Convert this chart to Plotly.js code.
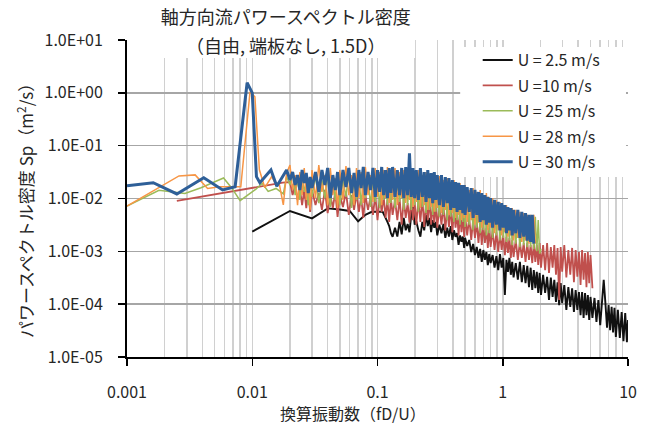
<!DOCTYPE html>
<html>
<head>
<meta charset="utf-8">
<script src="https://cdn.plot.ly/plotly-3.0.1.min.js"></script>
<style>
  html, body { margin: 0; padding: 0; background: #fff; }
  #chart { width: 651px; height: 427px; }
</style>
</head>
<body>
<div id="chart"></div>
<script>
// Reduced frequency fD/U shared by the dense part of every spectrum
const fGrid = [
  0.020, 0.021, 0.022, 0.023, 0.024, 0.025, 0.026, 0.027, 0.028, 0.029,
  0.030, 0.032, 0.034, 0.036, 0.038, 0.040, 0.042, 0.044, 0.046, 0.048,
  0.050, 0.053, 0.056, 0.059, 0.062, 0.065, 0.068, 0.071, 0.074, 0.077,
  0.080, 0.084, 0.088, 0.092, 0.096, 0.100, 0.104, 0.108, 0.112, 0.116, 0.120, 0.124, 0.128,
  0.132, 0.138, 0.144, 0.150, 0.156, 0.162, 0.168, 0.174, 0.180, 0.186, 0.192, 0.198,
  0.204, 0.212, 0.220, 0.228, 0.236, 0.244, 0.252, 0.260, 0.268, 0.276, 0.284, 0.292, 0.300,
  0.312, 0.324, 0.336, 0.348, 0.360, 0.372, 0.384, 0.396, 0.408, 0.420, 0.432, 0.444, 0.456, 0.468, 0.480, 0.492,
  0.50, 0.52, 0.54, 0.56, 0.58, 0.60, 0.62, 0.64, 0.66, 0.68, 0.70, 0.72, 0.74, 0.76, 0.78,
  0.80, 0.83, 0.86, 0.89, 0.92, 0.95, 0.98, 1.01, 1.04, 1.07, 1.10, 1.13, 1.16, 1.19,
  1.22, 1.27, 1.32, 1.37, 1.42, 1.47, 1.52, 1.57, 1.62, 1.67, 1.72, 1.77, 1.82, 1.87, 1.92, 1.97,
  2.02, 2.10, 2.18, 2.26, 2.34, 2.42, 2.50, 2.58, 2.66, 2.74, 2.82, 2.90, 2.98,
  3.10, 3.22, 3.34, 3.46, 3.58, 3.70, 3.82, 3.94, 4.06, 4.18, 4.30, 4.42, 4.54, 4.66, 4.78, 4.90, 5.02,
  5.2, 5.4, 5.6, 5.8, 6.0, 6.2, 6.4, 6.6, 6.8, 7.0, 7.2, 7.4, 7.6, 7.8,
  8.0, 8.3, 8.6, 8.9, 9.2, 9.5, 9.8, 10.0
];

// U = 2.5 m/s
const f2_5Head = [0.01, 0.02, 0.03, 0.04, 0.05, 0.06, 0.07, 0.08, 0.09, 0.10, 0.11, 0.12];
const sp2_5Head = [0.00236, 0.0058, 0.0042, 0.0065, 0.0062, 0.0058, 0.0037, 0.0049, 0.0056, 0.0056, 0.0056, 0.0036];
const sp2_5Tail = [
  0.0030, 0.0022, 0.00188,
  0.0028, 0.0019, 0.0036, 0.0021, 0.0043, 0.0025, 0.0033, 0.0023, 0.0049, 0.0069,
  0.0032, 0.0037, 0.0025, 0.0019, 0.0036, 0.0025, 0.0049, 0.0030, 0.0043, 0.0023,
  0.0039, 0.0028, 0.0036, 0.0020, 0.0032, 0.0022, 0.0033, 0.0018, 0.0028, 0.0019,
  0.0030, 0.00164, 0.0025, 0.00188, 0.0022, 0.00132, 0.0020, 0.00151, 0.0019, 0.00116,
  0.0018, 0.00126, 0.00164, 0.00097, 0.00138, 0.00085, 0.00121, 0.00075, 0.00111, 0.00063,
  0.00106, 0.00069, 0.00097, 0.00055, 0.00089, 0.00060, 0.00085, 0.00049, 0.00081, 0.00044,
  0.00089, 0.00049, 0.00075, 0.000149, 0.00069, 0.00041, 0.00075, 0.00036, 0.00063, 0.00032,
  0.00060, 0.00029, 0.00063, 0.00026, 0.00055, 0.00025, 0.00053, 0.00021, 0.00049, 0.000185,
  0.00044, 0.00020, 0.00041, 0.000163, 0.00039, 0.000149, 0.00036, 0.000163, 0.00033, 0.000120,
  0.00032, 0.000137, 0.00029, 0.000110, 0.00026, 0.000096, 0.00025, 0.000105, 0.00023, 0.000078,
  0.00021, 0.000089, 0.00020, 0.000071, 0.000185, 0.000078, 0.000170, 0.000062, 0.000170, 0.000055,
  0.000163, 0.000062, 0.000149, 0.000050, 0.000137, 0.000055, 0.000131, 0.000046, 0.000120, 0.000040,
  0.000110, 0.00029, 0.000105, 0.000036, 0.000096, 0.000032, 0.000089, 0.000029, 0.000085, 0.000024,
  0.000078, 0.000023, 0.000071, 0.000020, 0.000068, 0.000019, 0.000050
];

// U = 10 m/s
const f10Head = [0.0025, 0.005, 0.0075, 0.01, 0.0125, 0.015, 0.0175];
const sp10Head = [0.0090, 0.0120, 0.0142, 0.0160, 0.0178, 0.0190, 0.0200];
const sp10Tail = [
  0.0205, 0.0116, 0.0180, 0.0094, 0.0158, 0.0075, 0.0145, 0.0066, 0.0133, 0.0056,
  0.0145, 0.0075, 0.0127, 0.0061, 0.0145, 0.0053, 0.0116, 0.0066, 0.0133, 0.0045,
  0.0116, 0.0069, 0.0133, 0.0049, 0.0116, 0.0061, 0.0127, 0.0056, 0.0107, 0.0043,
  0.0116, 0.0061, 0.0107, 0.0049, 0.0116, 0.0039, 0.0102, 0.0056, 0.0111, 0.0043,
  0.0094, 0.0036, 0.0102, 0.0049, 0.0094, 0.0039, 0.0102, 0.0032, 0.0094, 0.0043,
  0.0082, 0.0035, 0.0102, 0.0039, 0.0086, 0.0032, 0.0094, 0.0036, 0.0102, 0.0029,
  0.0082, 0.0039, 0.0094, 0.0032, 0.0075, 0.0035, 0.0082, 0.0028, 0.0069, 0.0032,
  0.0075, 0.0025, 0.0066, 0.0029, 0.0069, 0.0023, 0.0061, 0.0028, 0.0056, 0.0020,
  0.0053, 0.0023, 0.0049, 0.00188, 0.0049, 0.0020, 0.0043, 0.00164, 0.0039, 0.0018,
  0.0036, 0.00144, 0.0035, 0.00132, 0.0032, 0.00144, 0.0028, 0.00116, 0.0028, 0.00121,
  0.0025, 0.00106, 0.0023, 0.00097, 0.0022, 0.00106, 0.0020, 0.00085, 0.00188, 0.00093,
  0.0018, 0.00075, 0.00164, 0.00078, 0.00164, 0.00069, 0.00151, 0.00075, 0.00144, 0.00063,
  0.00144, 0.00069, 0.00132, 0.00060, 0.00144, 0.00063, 0.00132, 0.00055, 0.00144, 0.00049,
  0.00132, 0.00044, 0.00144, 0.00039, 0.00121, 0.00049, 0.00132, 0.00036, 0.00116, 0.00012,
  0.00121, 0.00041, 0.00132, 0.00032, 0.00106, 0.00036, 0.00116, 0.00026, 0.00106, 0.00033,
  0.00097, 0.00023, 0.00106, 0.00029, 0.00093, 0.00021, 0.00097, 0.00025, 0.00085, 0.00020
];

// U = 25 m/s
const f25Head = [0.001, 0.0018, 0.0029, 0.0039, 0.0059, 0.0069, 0.008, 0.0107, 0.012, 0.0134, 0.0155, 0.0177, 0.0188];
const sp25Head = [0.0072, 0.0143, 0.0125, 0.016, 0.0244, 0.0155, 0.0091, 0.015, 0.0194, 0.0136, 0.0155, 0.0122, 0.026];
const sp25Tail = [
  0.0180, 0.0317, 0.0116, 0.0244, 0.0094, 0.0278, 0.0133, 0.0205, 0.0075, 0.0244,
  0.0107, 0.0278, 0.0082, 0.0224, 0.0102, 0.0304, 0.0069, 0.0244, 0.0094, 0.0278,
  0.0075, 0.0224, 0.0107, 0.0317, 0.0066, 0.0244, 0.0094, 0.0278, 0.0075, 0.0224,
  0.0102, 0.0304, 0.0069, 0.0244, 0.0086, 0.0278, 0.0066, 0.0224, 0.0094, 0.0255,
  0.0075, 0.0224, 0.0082, 0.0278, 0.0066, 0.0205, 0.0086, 0.0244, 0.0061, 0.0224,
  0.0075, 0.0244, 0.0061, 0.0205, 0.0075, 0.0224, 0.0056, 0.0197, 0.0069, 0.0205,
  0.0053, 0.0180, 0.0061, 0.0197, 0.0049, 0.0165, 0.0056, 0.0180, 0.0045, 0.0158,
  0.0049, 0.0165, 0.0039, 0.0145, 0.0045, 0.0145, 0.0036, 0.0133, 0.0039, 0.0127,
  0.0032, 0.0116, 0.0036, 0.0116, 0.0029, 0.0107, 0.0032, 0.0102, 0.0025, 0.0094,
  0.0028, 0.0086, 0.0022, 0.0082, 0.0025, 0.0075, 0.0020, 0.0069, 0.0022, 0.0066,
  0.0018, 0.0061, 0.0020, 0.0061, 0.0016, 0.0056, 0.0018, 0.0053, 0.0015, 0.0049,
  0.0016, 0.0049, 0.0013, 0.0045, 0.0014, 0.0043, 0.0012, 0.0043, 0.0013, 0.0039,
  0.0012, 0.0043, 0.0012, 0.0039, 0.0011, 0.0045, 0.0010, 0.0039, 0.0009, 0.0011
];

// U = 28 m/s
const f28Head = [0.001, 0.0026, 0.0035, 0.0044, 0.0055, 0.0073, 0.0081, 0.0096, 0.0105, 0.0114, 0.0126, 0.0143, 0.0152, 0.0165, 0.0177, 0.0188];
const sp28Head = [0.0072, 0.0267, 0.028, 0.0155, 0.0167, 0.0165, 0.0167, 1.05, 0.845, 0.035, 0.016, 0.026, 0.0199, 0.018, 0.0076, 0.030];
const sp28Tail = [
  0.0431, 0.0145, 0.0278, 0.0075, 0.0317, 0.0116, 0.0378, 0.0094, 0.0244, 0.0061,
  0.0346, 0.0102, 0.0431, 0.0133, 0.0278, 0.0075, 0.0378, 0.0116, 0.0244, 0.0066,
  0.0346, 0.0094, 0.0413, 0.0116, 0.0278, 0.0075, 0.0378, 0.0102, 0.0317, 0.0082,
  0.0395, 0.0116, 0.0278, 0.0086, 0.0378, 0.0107, 0.0317, 0.0075, 0.0346, 0.0102,
  0.0395, 0.0082, 0.0304, 0.0094, 0.0378, 0.0075, 0.0317, 0.0102, 0.0346, 0.0082,
  0.0278, 0.0094, 0.0346, 0.0069, 0.0304, 0.0086, 0.0346, 0.0066, 0.0278, 0.0075,
  0.0317, 0.0061, 0.0255, 0.0069, 0.0304, 0.0056, 0.0244, 0.0066, 0.0265, 0.0053,
  0.0224, 0.0061, 0.0244, 0.0049, 0.0205, 0.0053, 0.0224, 0.0043, 0.0180, 0.0049,
  0.0197, 0.0039, 0.0165, 0.0043, 0.0180, 0.0036, 0.0145, 0.0039, 0.0158, 0.0032,
  0.0133, 0.0035, 0.0145, 0.0028, 0.0116, 0.0032, 0.0127, 0.0025, 0.0107, 0.0028,
  0.0102, 0.0022, 0.0094, 0.0025, 0.0086, 0.0020, 0.0075, 0.0023, 0.0075, 0.0019,
  0.0066, 0.0020, 0.0066, 0.0016, 0.0061, 0.0018, 0.0056, 0.0015, 0.0053, 0.0016,
  0.0049, 0.0014, 0.0049, 0.0016, 0.0049, 0.0014
];

// U = 30 m/s
const f30Head = [0.001, 0.00162, 0.0025, 0.0041, 0.0058, 0.0073, 0.0091, 0.0100, 0.0108, 0.0115, 0.0141, 0.0157, 0.0188];
const sp30Head = [0.0175, 0.0199, 0.0122, 0.0248, 0.0145, 0.0167, 1.55, 1.0, 0.0259, 0.0199, 0.0346, 0.017, 0.0346];
const sp30Tail = [
  0.0224, 0.0317, 0.0180, 0.0278, 0.0145, 0.0346, 0.0197, 0.0304, 0.0127, 0.0255,
  0.0158, 0.0317, 0.0133, 0.0346, 0.0180, 0.0378, 0.0102, 0.0278, 0.0145, 0.0317,
  0.0116, 0.0346, 0.0165, 0.0378, 0.0127, 0.0304, 0.0107, 0.0346, 0.0158, 0.0395,
  0.0116, 0.0317, 0.0145, 0.0378, 0.0107, 0.0346, 0.0133, 0.0395, 0.0116, 0.0346,
  0.0102, 0.0378, 0.0127, 0.0395, 0.0107, 0.0346, 0.0116, 0.0378, 0.0102, 0.0395,
  0.0116, 0.0717, 0.0107, 0.0378, 0.0102, 0.0346, 0.0094, 0.0378, 0.0107, 0.0317,
  0.0086, 0.0346, 0.0102, 0.0304, 0.0082, 0.0317, 0.0094, 0.0278, 0.0075, 0.0278,
  0.0069, 0.0255, 0.0082, 0.0244, 0.0061, 0.0224, 0.0066, 0.0205, 0.0056, 0.0197,
  0.0061, 0.0180, 0.0053, 0.0180, 0.0049, 0.0165, 0.0056, 0.0158, 0.0043, 0.0145,
  0.0049, 0.0133, 0.0036, 0.0127, 0.0039, 0.0116, 0.0032, 0.0107, 0.0035, 0.0102,
  0.0028, 0.0094, 0.0032, 0.0086, 0.0025, 0.0082, 0.0028, 0.0075, 0.0022, 0.0069,
  0.0025, 0.0066, 0.0020, 0.0061, 0.0022, 0.0061, 0.0018, 0.0056, 0.0019, 0.0053,
  0.0016, 0.0049, 0.0015, 0.0049, 0.0014
];

// Axis ticks
const xTickVals = [0.001, 0.01, 0.1, 1, 10];
const xTickText = ['0.001', '0.01', '0.1', '1', '10'];
const xMinorVals = [
  0.002, 0.003, 0.004, 0.005, 0.006, 0.007, 0.008, 0.009,
  0.02, 0.03, 0.04, 0.05, 0.06, 0.07, 0.08, 0.09,
  0.2, 0.3, 0.4, 0.5, 0.6, 0.7, 0.8, 0.9,
  2, 3, 4, 5, 6, 7, 8, 9
];
const yTickVals = [1e-5, 1e-4, 1e-3, 1e-2, 1e-1, 1, 10];
const yTickText = ['1.0E-05', '1.0E-04', '1.0E-03', '1.0E-02', '1.0E-01', '1.0E+00', '1.0E+01'];

// Join the low-frequency head of a spectrum with its dense tail on fGrid
function spectrum(head, headVals, tailVals) {
  const last = head[head.length - 1];
  const start = fGrid.findIndex(f => f > last);
  return {
    x: head.concat(fGrid.slice(start, start + tailVals.length)),
    y: headVals.concat(tailVals)
  };
}

const series = [
  { name: 'U = 2.5 m/s', d: spectrum(f2_5Head, sp2_5Head, sp2_5Tail), color: '#111111', width: 1.9 },
  { name: 'U =10 m/s',   d: spectrum(f10Head, sp10Head, sp10Tail),   color: '#c0504d', width: 1.8 },
  { name: 'U = 25 m/s',  d: spectrum(f25Head, sp25Head, sp25Tail),   color: '#9bbb59', width: 1.5 },
  { name: 'U = 28 m/s',  d: spectrum(f28Head, sp28Head, sp28Tail),   color: '#f79646', width: 1.5 },
  { name: 'U = 30 m/s',  d: spectrum(f30Head, sp30Head, sp30Tail),   color: '#2e5f98', width: 3 }
];

const traces = series.map((s, i) => ({
  type: 'scatter',
  mode: 'lines',
  name: s.name,
  legendgroup: 'g' + i,
  x: s.d.x,
  y: s.d.y,
  line: { color: s.color, width: s.width },
  hoverinfo: 'skip'
}));

const FONT = '"Noto Sans CJK JP", "Noto Sans", sans-serif';

const layout = {
  width: 651,
  height: 427,
  margin: { l: 127, r: 23, t: 40, b: 70 },
  paper_bgcolor: '#ffffff',
  plot_bgcolor: '#ffffff',
  font: { family: FONT, color: '#262626', size: 16 },
  title: {
    text: '軸方向流パワースペクトル密度',
    font: { family: FONT, size: 18, color: '#262626' },
    xref: 'container', yref: 'container',
    x: 0.439, xanchor: 'center',
    y: 0.958, yanchor: 'middle'
  },
  showlegend: true,
  legend: {
    x: 0.70, y: 0.99, xanchor: 'left', yanchor: 'top',
    bgcolor: 'rgba(0,0,0,0)',
    font: { family: FONT, size: 16, color: '#262626' },
    traceorder: 'grouped',
    tracegroupgap: 1.6
  },
  xaxis: {
    type: 'log',
    range: [-3, 1],
    tickmode: 'array',
    tickvals: xTickVals,
    ticktext: xTickText,
    ticks: 'outside', ticklen: 7, tickwidth: 1.5, tickcolor: '#000',
    showline: true, linecolor: '#000', linewidth: 2,
    showgrid: true, gridcolor: '#d0d0d0', gridwidth: 1.5,
    minor: { tickmode: 'array', tickvals: xMinorVals, showgrid: true, gridcolor: '#d0d0d0', gridwidth: 1.5, ticks: '' },
    zeroline: false,
    tickfont: { family: FONT, size: 16, color: '#262626' },
    ticklabelstandoff: 13
  },
  yaxis: {
    type: 'log',
    range: [-5, 1],
    tickmode: 'array',
    tickvals: yTickVals,
    ticktext: yTickText,
    ticks: 'outside', ticklen: 7, tickwidth: 1.5, tickcolor: '#000',
    showline: true, linecolor: '#000', linewidth: 2,
    showgrid: true, gridcolor: '#a6a6a6', gridwidth: 1.5,
    zeroline: false,
    tickfont: { family: FONT, size: 16, color: '#262626' },
    ticklabelstandoff: 12
  },
  shapes: [
    // white panel behind the chart title
    { type: 'rect', xref: 'paper', yref: 'paper', x0: 0.06, x1: 0.575, y0: 0.943, y1: 1.2,
      fillcolor: '#ffffff', line: { width: 0 }, layer: 'above' },
    // white panel behind the legend
    { type: 'rect', xref: 'paper', yref: 'paper', x0: 0.665, x1: 0.996, y0: 0.568, y1: 0.978,
      fillcolor: '#ffffff', line: { width: 0 }, layer: 'above' }
  ],
  annotations: [
    { text: '（自由, 端板なし, 1.5D）', xref: 'paper', yref: 'paper',
      x: 0.317, y: 0.984, xanchor: 'center', yanchor: 'middle', showarrow: false,
      font: { family: FONT, size: 18, color: '#262626' } },
    { text: 'パワースペクトル密度 Sp（m<sup>2</sup>/s）', xref: 'paper', yref: 'paper',
      x: -0.2036, y: 0.476, xanchor: 'center', yanchor: 'middle', textangle: -90, showarrow: false,
      font: { family: FONT, size: 17, color: '#262626' } },
    { text: '換算振動数（fD/U）', xref: 'paper', yref: 'paper',
      x: 0.451, y: -0.1767, xanchor: 'center', yanchor: 'middle', showarrow: false,
      font: { family: FONT, size: 16, color: '#262626' } }
  ]
};

Plotly.newPlot('chart', traces, layout, { displayModeBar: false, staticPlot: true });
</script>
</body>
</html>
